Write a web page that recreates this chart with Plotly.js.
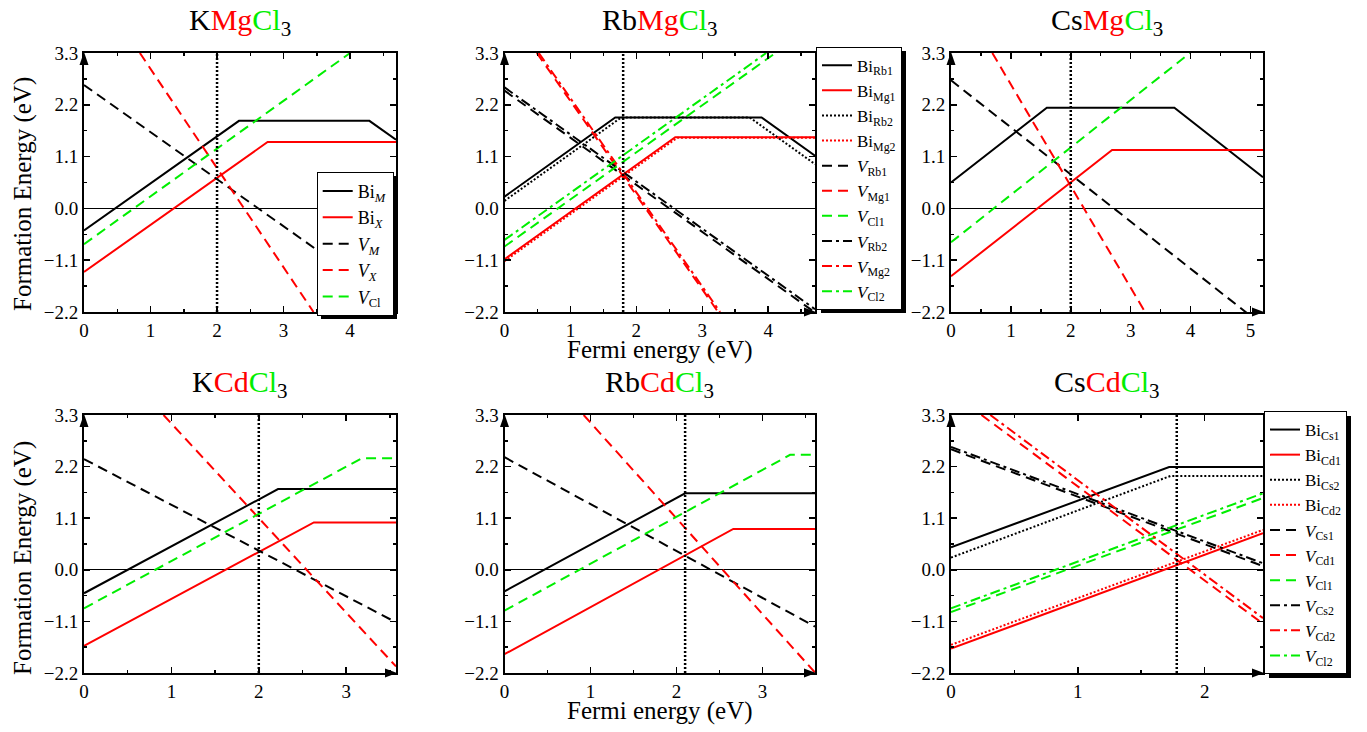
<!DOCTYPE html>
<html><head><meta charset="utf-8">
<script src="https://cdn.plot.ly/plotly-3.0.1.min.js"></script>
<style>html,body{margin:0;padding:0;background:#fff;} #chart{width:1367px;height:732px;}</style>
</head><body><div id="chart"></div>
<script>
// ---------- DATA ----------
const panelTitles = [
  "K<span style='color:#ff0000'>Mg</span><span style='color:#00ee00'>Cl</span><sub>3</sub>",
  "Rb<span style='color:#ff0000'>Mg</span><span style='color:#00ee00'>Cl</span><sub>3</sub>",
  "Cs<span style='color:#ff0000'>Mg</span><span style='color:#00ee00'>Cl</span><sub>3</sub>",
  "K<span style='color:#ff0000'>Cd</span><span style='color:#00ee00'>Cl</span><sub>3</sub>",
  "Rb<span style='color:#ff0000'>Cd</span><span style='color:#00ee00'>Cl</span><sub>3</sub>",
  "Cs<span style='color:#ff0000'>Cd</span><span style='color:#00ee00'>Cl</span><sub>3</sub>"
];
const xMax = [4.69, 4.71, 5.21, 3.57, 3.61, 2.46];
const fermiLevel = [2.0, 1.8, 2.0, 2.0, 2.1, 1.78];
const yRange = [-2.2, 3.3];
const yTickVals = [-2.2, -1.1, 0, 1.1, 2.2, 3.3];
const yMinorVals = [-1.65, -0.55, 0.55, 1.65, 2.75];
const xTickStep = 1, xMinorStep = 0.5;

// KMgCl3
const KMgCl3_BiM = [[0,-0.47],[2.33,1.86],[4.29,1.86],[4.69,1.46]];
const KMgCl3_BiX = [[0,-1.35],[2.76,1.41],[4.69,1.41]];
const KMgCl3_VM  = [[0,2.62],[4.69,-2.07]];
const KMgCl3_VX  = [[0.84,3.3],[3.45,-2.2]];
const KMgCl3_VCl = [[0,-0.76],[4.0,3.3]];
// RbMgCl3
const RbMgCl3_BiRb1 = [[0,0.25],[1.68,1.93],[3.90,1.93],[4.71,1.12]];
const RbMgCl3_BiMg1 = [[0,-1.08],[2.59,1.51],[4.71,1.51]];
const RbMgCl3_BiRb2 = [[0,0.16],[1.77,1.93],[3.72,1.93],[4.71,0.94]];
const RbMgCl3_BiMg2 = [[0,-1.12],[2.62,1.50],[4.71,1.50]];
const RbMgCl3_VRb1 = [[0,2.50],[4.71,-2.21]];
const RbMgCl3_VMg1 = [[0.49,3.3],[3.24,-2.2]];
const RbMgCl3_VCl1 = [[0,-0.81],[4.11,3.3]];
const RbMgCl3_VRb2 = [[0,2.57],[4.71,-2.14]];
const RbMgCl3_VMg2 = [[0.52,3.3],[3.27,-2.2]];
const RbMgCl3_VCl2 = [[0,-0.67],[3.97,3.3]];
// CsMgCl3
const CsMgCl3_BiM = [[0,0.55],[1.60,2.14],[3.73,2.14],[5.21,0.66]];
const CsMgCl3_BiX = [[0,-1.44],[2.69,1.24],[5.21,1.24]];
const CsMgCl3_VM  = [[0,2.72],[5.21,-2.49]];
const CsMgCl3_VX  = [[0.69,3.3],[3.24,-2.2]];
const CsMgCl3_VCl = [[0,-0.72],[3.99,3.3]];
// KCdCl3
const KCdCl3_BiM = [[0,-0.50],[2.22,1.72],[3.57,1.72]];
const KCdCl3_BiX = [[0,-1.62],[2.63,1.01],[3.57,1.01]];
const KCdCl3_VM  = [[0,2.36],[3.57,-1.12]];
const KCdCl3_VX  = [[0.91,3.3],[3.57,-2.06]];
const KCdCl3_VCl = [[0,-0.82],[3.18,2.38],[3.57,2.38]];
// RbCdCl3
const RbCdCl3_BiM = [[0,-0.46],[2.10,1.63],[3.61,1.63]];
const RbCdCl3_BiX = [[0,-1.80],[2.66,0.87],[3.61,0.87]];
const RbCdCl3_VM  = [[0,2.40],[3.61,-1.21]];
const RbCdCl3_VX  = [[0.92,3.3],[3.61,-2.19]];
const RbCdCl3_VCl = [[0,-0.87],[3.32,2.45],[3.61,2.45]];
// CsCdCl3
const CsCdCl3_BiCs1 = [[0,0.48],[1.72,2.19],[2.46,2.19]];
const CsCdCl3_BiCd1 = [[0,-1.68],[2.46,0.78]];
const CsCdCl3_BiCs2 = [[0,0.26],[1.73,2.00],[2.46,2.00]];
const CsCdCl3_BiCd2 = [[0,-1.60],[2.46,0.85]];
const CsCdCl3_VCs1 = [[0,2.57],[2.46,0.08]];
const CsCdCl3_VCd1 = [[0.24,3.3],[2.46,-1.15]];
const CsCdCl3_VCl1 = [[0,-0.90],[2.46,1.53]];
const CsCdCl3_VCs2 = [[0,2.62],[2.46,0.14]];
const CsCdCl3_VCd2 = [[0.31,3.3],[2.46,-1.03]];
const CsCdCl3_VCl2 = [[0,-0.82],[2.46,1.63]];

// ---------- STYLE ----------
const FONT = "Liberation Serif";
const BLACK = "#000000", RED = "#ff0000", GREEN = "#00ee00";
const DASH = {solid: "solid", dot: "2px,2px", dash: "10px,6px", dashdot: "10px,4px,3px,4px"};

const panelSeries = [
  [["Bi<sub><i>M</i></sub>", KMgCl3_BiM, BLACK, "solid"],
   ["Bi<sub><i>X</i></sub>", KMgCl3_BiX, RED, "solid"],
   ["<i>V</i><sub><i>M</i></sub>", KMgCl3_VM, BLACK, "dash"],
   ["<i>V</i><sub><i>X</i></sub>", KMgCl3_VX, RED, "dash"],
   ["<i>V</i><sub>Cl</sub>", KMgCl3_VCl, GREEN, "dash"]],
  [["Bi<sub>Rb1</sub>", RbMgCl3_BiRb1, BLACK, "solid"],
   ["Bi<sub>Mg1</sub>", RbMgCl3_BiMg1, RED, "solid"],
   ["Bi<sub>Rb2</sub>", RbMgCl3_BiRb2, BLACK, "dot"],
   ["Bi<sub>Mg2</sub>", RbMgCl3_BiMg2, RED, "dot"],
   ["<i>V</i><sub>Rb1</sub>", RbMgCl3_VRb1, BLACK, "dash"],
   ["<i>V</i><sub>Mg1</sub>", RbMgCl3_VMg1, RED, "dash"],
   ["<i>V</i><sub>Cl1</sub>", RbMgCl3_VCl1, GREEN, "dash"],
   ["<i>V</i><sub>Rb2</sub>", RbMgCl3_VRb2, BLACK, "dashdot"],
   ["<i>V</i><sub>Mg2</sub>", RbMgCl3_VMg2, RED, "dashdot"],
   ["<i>V</i><sub>Cl2</sub>", RbMgCl3_VCl2, GREEN, "dashdot"]],
  [["Bi<sub><i>M</i></sub>", CsMgCl3_BiM, BLACK, "solid"],
   ["Bi<sub><i>X</i></sub>", CsMgCl3_BiX, RED, "solid"],
   ["<i>V</i><sub><i>M</i></sub>", CsMgCl3_VM, BLACK, "dash"],
   ["<i>V</i><sub><i>X</i></sub>", CsMgCl3_VX, RED, "dash"],
   ["<i>V</i><sub>Cl</sub>", CsMgCl3_VCl, GREEN, "dash"]],
  [["Bi<sub><i>M</i></sub>", KCdCl3_BiM, BLACK, "solid"],
   ["Bi<sub><i>X</i></sub>", KCdCl3_BiX, RED, "solid"],
   ["<i>V</i><sub><i>M</i></sub>", KCdCl3_VM, BLACK, "dash"],
   ["<i>V</i><sub><i>X</i></sub>", KCdCl3_VX, RED, "dash"],
   ["<i>V</i><sub>Cl</sub>", KCdCl3_VCl, GREEN, "dash"]],
  [["Bi<sub><i>M</i></sub>", RbCdCl3_BiM, BLACK, "solid"],
   ["Bi<sub><i>X</i></sub>", RbCdCl3_BiX, RED, "solid"],
   ["<i>V</i><sub><i>M</i></sub>", RbCdCl3_VM, BLACK, "dash"],
   ["<i>V</i><sub><i>X</i></sub>", RbCdCl3_VX, RED, "dash"],
   ["<i>V</i><sub>Cl</sub>", RbCdCl3_VCl, GREEN, "dash"]],
  [["Bi<sub>Cs1</sub>", CsCdCl3_BiCs1, BLACK, "solid"],
   ["Bi<sub>Cd1</sub>", CsCdCl3_BiCd1, RED, "solid"],
   ["Bi<sub>Cs2</sub>", CsCdCl3_BiCs2, BLACK, "dot"],
   ["Bi<sub>Cd2</sub>", CsCdCl3_BiCd2, RED, "dot"],
   ["<i>V</i><sub>Cs1</sub>", CsCdCl3_VCs1, BLACK, "dash"],
   ["<i>V</i><sub>Cd1</sub>", CsCdCl3_VCd1, RED, "dash"],
   ["<i>V</i><sub>Cl1</sub>", CsCdCl3_VCl1, GREEN, "dash"],
   ["<i>V</i><sub>Cs2</sub>", CsCdCl3_VCs2, BLACK, "dashdot"],
   ["<i>V</i><sub>Cd2</sub>", CsCdCl3_VCd2, RED, "dashdot"],
   ["<i>V</i><sub>Cl2</sub>", CsCdCl3_VCl2, GREEN, "dashdot"]]
];
const panelLegend = ["legend", "legend2", null, null, null, "legend3"];

// ---------- LAYOUT GEOMETRY (pixels of the 1367x732 page) ----------
const W = 1367, H = 732;
const colPx = [[84, 396], [504.5, 815], [951, 1263]];
const rowPx = [[53, 312], [415, 673]];
const px2x = p => p / W, px2y = p => 1 - p / H;

const traces = [];
const layout = {
  width: W, height: H, margin: {l: 0, r: 0, t: 0, b: 0},
  paper_bgcolor: "#fff", plot_bgcolor: "#fff",
  font: {family: FONT, color: BLACK},
  annotations: [], shapes: []
};

for (let i = 0; i < 6; i++) {
  const k = i + 1;
  const col = colPx[i % 3], row = rowPx[Math.floor(i / 3)];
  const xa = "xaxis" + (k === 1 ? "" : k), ya = "yaxis" + (k === 1 ? "" : k);
  const xid = "x" + (k === 1 ? "" : k), yid = "y" + (k === 1 ? "" : k);
  layout[xa] = {
    domain: [px2x(col[0]), px2x(col[1])], anchor: yid,
    range: [0, xMax[i]], tick0: 0, dtick: xTickStep,
    showline: true, linecolor: BLACK, linewidth: 2, mirror: "allticks",
    ticks: "inside", ticklen: 6, tickwidth: 1.5, tickcolor: BLACK,
    minor: {ticks: "inside", ticklen: 3, tickwidth: 1.5, tickcolor: BLACK, dtick: xMinorStep, tick0: 0},
    showgrid: false, zeroline: false,
    tickfont: {family: FONT, size: 19, color: BLACK}, fixedrange: true
  };
  layout[ya] = {
    domain: [px2y(row[1]), px2y(row[0])], anchor: xid,
    range: yRange, tickmode: "array", tickvals: yTickVals, tickformat: ".1f",
    showline: true, linecolor: BLACK, linewidth: 2, mirror: "allticks",
    ticks: "inside", ticklen: 6, tickwidth: 1.5, tickcolor: BLACK,
    minor: {ticks: "inside", ticklen: 3, tickwidth: 1.5, tickcolor: BLACK, tickmode: "array", tickvals: yMinorVals},
    showgrid: false, zeroline: true, zerolinecolor: BLACK, zerolinewidth: 1,
    tickfont: {family: FONT, size: 19, color: BLACK}, fixedrange: true
  };
  panelSeries[i].forEach(s => {
    const [name, pts, color, dash] = s;
    const t = {
      type: "scatter", mode: "lines", name: name,
      x: pts.map(p => p[0]), y: pts.map(p => p[1]),
      xaxis: xid, yaxis: yid,
      line: {color: color, width: 2, dash: DASH[dash]},
      showlegend: panelLegend[i] !== null, hoverinfo: "skip"
    };
    if (panelLegend[i]) t.legend = panelLegend[i];
    traces.push(t);
  });
  // vertical dotted line at the chosen Fermi level
  traces.push({
    type: "scatter", mode: "lines", x: [fermiLevel[i], fermiLevel[i]], y: yRange,
    xaxis: xid, yaxis: yid, showlegend: false, hoverinfo: "skip",
    line: {color: BLACK, width: 2.5, dash: "2px,2px"}
  });
  // panel title
  layout.annotations.push({
    text: panelTitles[i], xref: "paper", yref: "paper",
    x: px2x((col[0] + col[1]) / 2), y: px2y(row[0] - 31), xanchor: "center", yanchor: "middle",
    showarrow: false, font: {family: FONT, size: 30, color: BLACK}
  });
  // arrows at axis ends
  layout.shapes.push({
    type: "path", xref: xid + " domain", yref: yid + " domain",
    xsizemode: "pixel", ysizemode: "pixel", xanchor: 1, yanchor: 0,
    path: "M -11,4.5 L 1,0 L -11,-4.5 Z", fillcolor: BLACK, line: {width: 0}, layer: "above"
  });
  layout.shapes.push({
    type: "path", xref: xid + " domain", yref: yid + " domain",
    xsizemode: "pixel", ysizemode: "pixel", xanchor: 0, yanchor: 1,
    path: "M -4.5,-12 L 0,1 L 4.5,-12 Z", fillcolor: BLACK, line: {width: 0}, layer: "above"
  });
}

// axis titles
[194, 558].forEach(yc => layout.annotations.push({
  text: "Formation Energy (eV)", xref: "paper", yref: "paper", x: px2x(23), y: px2y(yc),
  xanchor: "center", yanchor: "middle", textangle: -90, showarrow: false,
  font: {family: FONT, size: 25, color: BLACK}
}));
[350, 711].forEach(yc => layout.annotations.push({
  text: "Fermi energy (eV)", xref: "paper", yref: "paper", x: px2x(659.5), y: px2y(yc),
  xanchor: "center", yanchor: "middle", showarrow: false,
  font: {family: FONT, size: 25, color: BLACK}
}));

// legends
const legendBase = {xanchor: "left", yanchor: "top", bgcolor: "#fff", bordercolor: BLACK, borderwidth: 1,
  traceorder: "normal", itemclick: false, itemdoubleclick: false};
layout.legend  = Object.assign({}, legendBase, {x: px2x(316.7), y: px2y(171.7), font: {family: FONT, size: 18, color: BLACK}});
layout.legend2 = Object.assign({}, legendBase, {x: px2x(816), y: px2y(46.7), font: {family: FONT, size: 17, color: BLACK}});
layout.legend3 = Object.assign({}, legendBase, {x: px2x(1264), y: px2y(411), font: {family: FONT, size: 17, color: BLACK}});

// drop shadow behind each legend box (offset right/down), cloned from the drawn legend background
function addLegendShadows() {
  ["legend", "legend2", "legend3"].forEach(id => {
    const bg = document.querySelector("#chart g." + id + " rect.bg");
    if (!bg || bg.previousSibling && bg.previousSibling.classList && bg.previousSibling.classList.contains("shadow")) return;
    const sh = bg.cloneNode(false);
    sh.setAttribute("class", "shadow");
    sh.setAttribute("transform", (bg.getAttribute("transform") || "") + " translate(4,4)");
    sh.style.fill = BLACK; sh.style.stroke = "none";
    bg.parentNode.insertBefore(sh, bg);
  });
}
const p = Plotly.newPlot("chart", traces, layout, {staticPlot: true, displayModeBar: false});
addLegendShadows();
p.then(addLegendShadows);
</script>
</body></html>
